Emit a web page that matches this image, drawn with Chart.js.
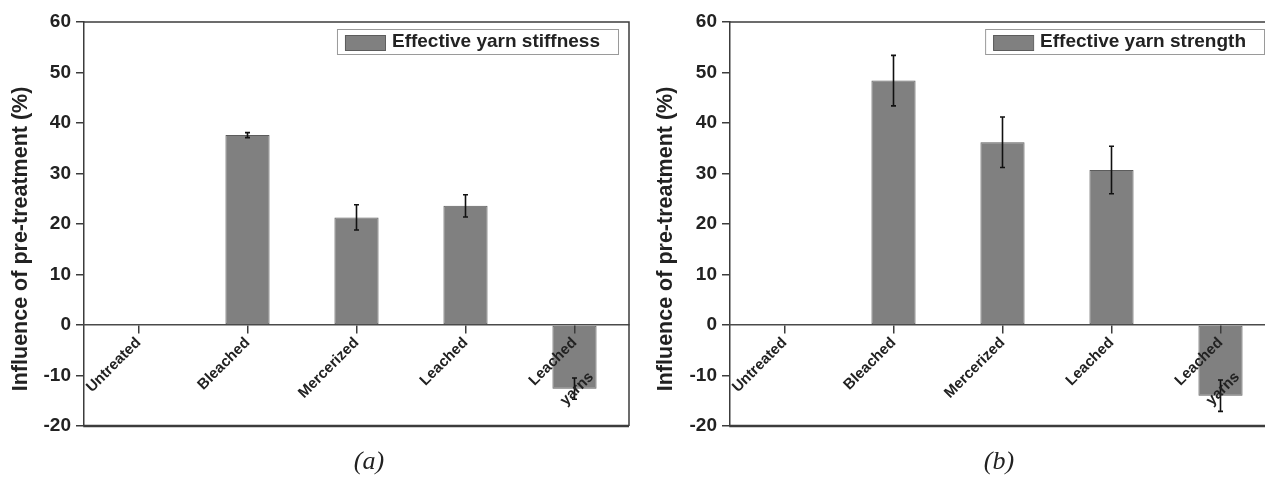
<!DOCTYPE html>
<html>
<head>
<meta charset="utf-8">
<script src="https://cdn.jsdelivr.net/npm/chart.js@4.4.1/dist/chart.umd.min.js"></script>
<style>
  html, body { margin: 0; padding: 0; background: #fff; overflow: hidden; width: 1265px; height: 478px; }
  .panel { position: absolute; top: 0; height: 478px; }
  #panel-a { left: 0; width: 640px; }
  #panel-b { left: 640px; width: 645px; }
  .caption { position: absolute; top: 448px; transform: translateX(-50%); font: italic 26px "Liberation Serif", serif; line-height: 1; color: #222; }
</style>
</head>
<body>
<div class="panel" id="panel-a"><canvas id="chart-a" width="640" height="478"></canvas></div>
<div class="panel" id="panel-b"><canvas id="chart-b" width="645" height="478"></canvas></div>
<div class="caption" style="left:369px">(a)</div>
<div class="caption" style="left:999px">(b)</div>
<script>
// last label is two lines with a blank gap, second line nudged to sit centred
const CATEGORIES = ['Untreated', 'Bleached', 'Mercerized', 'Leached', ['Leached', '', 'yarns   ']]

const STIFFNESS = [0, 37.6, 21.3, 23.6, -12.6]
const STIFFNESS_ERR = [0, 0.5, 2.5, 2.2, 2.1]

const STRENGTH = [0, 48.4, 36.2, 30.7, -14.0]
const STRENGTH_ERR = [0, 5.0, 5.0, 4.7, 3.1]

const Y_MIN = -20
const Y_MAX = 60
const Y_STEP = 5
// trailing spaces push the visible title a little down the axis, as in the original
const Y_TITLE = 'Influence of pre-treatment (%)     '

const BAR_FILL = '#808080'
const BAR_EDGE = '#5c5c5c'
const INK = '#222'
const AXIS = '#3c3c3c'

// error bars drawn through the chart's own scales
const errorBars = {
  id: 'errorBars',
  afterDatasetsDraw(chart, args, opts) {
    const { ctx } = chart
    const yScale = chart.scales.y
    const meta = chart.getDatasetMeta(0)
    const values = chart.data.datasets[0].data
    ctx.save()
    ctx.strokeStyle = '#111'
    ctx.lineWidth = 1.6
    values.forEach((value, i) => {
      const err = opts.errors[i]
      if (!err) return
      const x = meta.data[i].x
      const top = yScale.getPixelForValue(value + err)
      const bottom = yScale.getPixelForValue(value - err)
      ctx.beginPath()
      ctx.moveTo(x, top)
      ctx.lineTo(x, bottom)
      ctx.moveTo(x - 2.5, top)
      ctx.lineTo(x + 2.5, top)
      ctx.moveTo(x - 2.5, bottom)
      ctx.lineTo(x + 2.5, bottom)
      ctx.stroke()
    })
    ctx.restore()
  },
}

// top / right / bottom frame around the plot
const frame = {
  id: 'frame',
  afterDraw(chart) {
    const { ctx, chartArea: a } = chart
    ctx.save()
    ctx.strokeStyle = AXIS
    ctx.lineWidth = 1.5
    ctx.beginPath()
    ctx.moveTo(a.left, a.top)
    ctx.lineTo(a.right, a.top)
    ctx.lineTo(a.right, a.bottom)
    ctx.stroke()
    ctx.lineWidth = 2.4
    ctx.beginPath()
    ctx.moveTo(a.left - 0.75, a.bottom)
    ctx.lineTo(a.right, a.bottom)
    ctx.stroke()
    ctx.restore()
  },
}

// boxed legend inside the top-right corner
const boxLegend = {
  id: 'boxLegend',
  afterDraw(chart) {
    const { ctx, chartArea: a } = chart
    const label = chart.data.datasets[0].label
    ctx.save()
    ctx.font = 'bold 19px "Liberation Sans", Arial, sans-serif'
    const textW = ctx.measureText(label).width
    const boxW = 8 + 40 + 7 + textW + 18
    const boxH = 25
    const right = a.right - 11
    const left = right - boxW
    const top = a.top + 7
    ctx.fillStyle = '#fff'
    ctx.fillRect(left, top, boxW, boxH)
    ctx.strokeStyle = '#9a9a9a'
    ctx.lineWidth = 1
    ctx.strokeRect(left + 0.5, top + 0.5, boxW, boxH)
    ctx.fillStyle = BAR_FILL
    ctx.fillRect(left + 8, top + 6, 40, 15)
    ctx.strokeStyle = BAR_EDGE
    ctx.strokeRect(left + 8.5, top + 6.5, 40, 15)
    ctx.fillStyle = INK
    ctx.textBaseline = 'middle'
    ctx.fillText(label, left + 55, top + boxH / 2 + 0.5)
    ctx.restore()
  },
}

function makeChart(canvasId, label, values, errors, yWidth, titlePad, rightPad) {
  return new Chart(document.getElementById(canvasId), {
    type: 'bar',
    data: {
      labels: CATEGORIES,
      datasets: [{
        label,
        data: values,
        backgroundColor: BAR_FILL,
        borderColor: BAR_EDGE,
        borderWidth: 1,
        borderSkipped: false,
        barPercentage: 0.405,
        categoryPercentage: 1,
      }],
    },
    plugins: [errorBars, frame, boxLegend],
    options: {
      responsive: false,
      animation: false,
      devicePixelRatio: 1,
      layout: { padding: { top: 22, bottom: 52, left: 0, right: rightPad } },
      plugins: {
        legend: { display: false },
        tooltip: { enabled: false },
        errorBars: { errors },
      },
      scales: {
        x: {
          type: 'category',
          position: { y: 0 },
          offset: true,
          grid: {
            display: true,
            drawOnChartArea: false,
            drawTicks: true,
            tickLength: 8,
            offset: false,
            color: AXIS,
            lineWidth: 1.5,
            z: 1,
          },
          border: { display: true, color: '#4a4a4a', width: 1.5, z: 1 },
          ticks: {
            z: 1,
            autoSkip: false,
            minRotation: 45,
            maxRotation: 45,
            padding: 1,
            color: INK,
            font: { family: '"Liberation Sans", Arial, sans-serif', size: 15, weight: 'bold' },
          },
        },
        y: {
          position: 'left',
          min: Y_MIN,
          max: Y_MAX,
          afterFit(scale) { scale.width = yWidth },
          grid: {
            drawOnChartArea: false,
            drawTicks: true,
            tickLength: 8,
            color: AXIS,
            lineWidth: 1.5,
          },
          border: { display: true, color: AXIS, width: 1.5 },
          ticks: {
            stepSize: Y_STEP,
            padding: 5,
            color: INK,
            font: { family: '"Liberation Sans", Arial, sans-serif', size: 19, weight: 'bold' },
            callback: (value) => value % 10 === 0 ? String(value) : '',
          },
          title: {
            display: true,
            text: Y_TITLE,
            color: INK,
            padding: { top: titlePad, bottom: 0 },
            font: { family: '"Liberation Sans", Arial, sans-serif', size: 21.5, weight: 'bold' },
          },
        },
      },
    },
  })
}

makeChart('chart-a', 'Effective yarn stiffness', STIFFNESS, STIFFNESS_ERR, 84, 8, 11)
makeChart('chart-b', 'Effective yarn strength', STRENGTH, STRENGTH_ERR, 90, 13, 10)
</script>
</body>
</html>
